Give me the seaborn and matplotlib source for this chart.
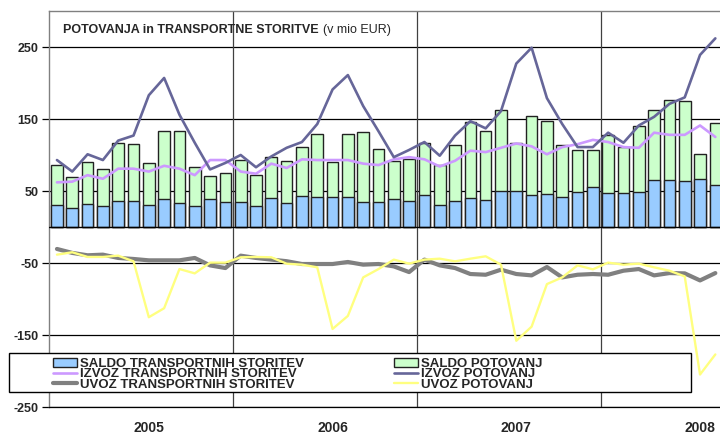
import numpy as np
import pandas as pd
import matplotlib
matplotlib.use("Agg")
import matplotlib.pyplot as plt
import seaborn as sns
from matplotlib.patches import Rectangle, Patch
from matplotlib.lines import Line2D
from matplotlib.font_manager import FontProperties

# ---------------- data (mio EUR, monthly Jan 2005 - Aug 2008) ----------------
years = ["2005", "2006", "2007", "2008"]
months = [f"{y}-{m:02d}" for y in years for m in range(1, 13)][:44]

saldo_transport = [31.0, 26.4, 31.9, 29.2, 36.1, 36.1, 31.0, 38.9, 33.3, 29.6, 38.9, 35.2,
                   35.2, 29.2, 40.3, 33.8, 42.6, 42.1, 41.7, 42.1, 35.2, 35.2, 38.9, 36.1,
                   44.0, 31.0, 36.1, 40.3, 37.0, 50.0, 50.0, 44.9, 45.8, 41.2, 48.1, 55.1,
                   47.2, 46.8, 48.6, 65.3, 64.8, 63.9, 66.7, 58.8]
saldo_potovanj = [55.6, 42.6, 58.8, 51.4, 80.6, 79.6, 57.4, 94.0, 100.0, 53.7, 31.5, 39.8,
                  57.4, 42.6, 56.9, 57.9, 68.0, 87.5, 48.6, 87.1, 96.7, 73.1, 52.3, 58.3,
                  72.7, 55.6, 77.8, 106.0, 96.3, 113.0, 66.7, 109.7, 101.4, 73.2, 58.4, 51.8,
                  81.0, 64.3, 92.1, 97.2, 111.1, 111.6, 34.7, 85.2]
izvoz_transport = [62, 63, 72, 67, 81, 81, 77, 85, 81, 72, 93, 93,
                   77, 74, 88, 82, 94, 93, 93, 93, 88, 86, 94, 97,
                   94, 84, 92, 106, 104, 110, 116, 112, 101, 111, 115, 121,
                   118, 111, 110, 131, 128, 128, 141, 125]
uvoz_transport = [-30.5, -36, -39.3, -38.4, -43, -44.4, -46.3, -46.3, -46.3, -43, -53.3, -57,
                  -39.8, -43, -45.3, -47.5, -51.4, -51.4, -51.4, -48.6, -52.3, -51.4, -54.7, -62.6,
                  -45.3, -53.3, -57, -65.3, -66.3, -59.3, -65.3, -67.2, -55.6, -70, -66.3, -65.3,
                  -66.3, -60.7, -58.4, -67.2, -64, -64.4, -74.2, -64]
izvoz_potovanj = [93, 77, 101, 93, 120, 127, 183, 207, 156, 117, 80, 89,
                  100, 83, 98, 110, 118, 143, 191, 211, 168, 133, 97, 107,
                  118, 99, 127, 147, 137, 161, 227, 249, 179, 143, 111, 111,
                  131, 117, 141, 153, 171, 180, 239, 262]
uvoz_potovanj = [-38.4, -35.1, -41.6, -41.6, -39.8, -47.7, -125.3, -112.8, -58.4, -64.4, -49.5, -49.5,
                 -42.1, -41.6, -42.1, -51, -52.3, -56, -141.6, -123.5, -70, -58.4, -45.3, -50.9,
                 -45.3, -44, -47.7, -44, -40.7, -52.3, -158, -138.4, -79.3, -70, -53.3, -58.8,
                 -49.5, -52.3, -50.9, -56, -60.7, -68.6, -204.9, -177]
y_ticks = [-250, -150, -50, 50, 150, 250]

labels = {
    "st": "SALDO TRANSPORTNIH STORITEV",
    "it": "IZVOZ TRANSPORTNIH STORITEV",
    "ut": "UVOZ TRANSPORTNIH STORITEV",
    "sp": "SALDO POTOVANJ",
    "ip": "IZVOZ POTOVANJ",
    "up": "UVOZ POTOVANJ",
}

df = pd.DataFrame({
    "month": months,
    "idx": np.arange(len(months)),
    "st": saldo_transport,
    "sp": saldo_potovanj,
    "it": izvoz_transport,
    "ut": uvoz_transport,
    "ip": izvoz_potovanj,
    "up": uvoz_potovanj,
})
df["stack_top"] = df["st"] + df["sp"]

# ---------------- style ----------------
sns.set_style("white")
plt.rcParams["font.family"] = ["Liberation Sans", "DejaVu Sans"]

C_BLUE = "#99CCFF"
C_GREEN = "#CCFFCC"
C_DARK = "#666699"
C_PURPLE = "#CC99FF"
C_GRAY = "#808080"
C_YELLOW = "#FFFF80"
EDGE = "#222222"

W, H = 720, 434
fig = plt.figure(figsize=(W / 100, H / 100), dpi=100)
fig.patch.set_facecolor("white")
ax = fig.add_axes([49.3 / W, 1 - 407 / H, (723 - 49.3) / W, (407 - 11) / H])
ax.set_facecolor("white")

# stacked bars: total (green) then saldo transport (blue) on top of it
sns.barplot(data=df, x="idx", y="stack_top", color=C_GREEN, saturation=1,
            edgecolor=EDGE, linewidth=1, width=0.76, ax=ax, zorder=2)
sns.barplot(data=df, x="idx", y="st", color=C_BLUE, saturation=1,
            edgecolor=EDGE, linewidth=1, width=0.76, ax=ax, zorder=2)

line_specs = [("it", C_PURPLE, 1.9), ("ip", C_DARK, 1.9),
              ("ut", C_GRAY, 3.0), ("up", C_YELLOW, 1.7)]
for key, col, lw in line_specs:
    sns.lineplot(data=df, x="idx", y=key, color=col, linewidth=lw,
                 estimator=None, ax=ax, zorder=4)

# gridlines / separators
for v in y_ticks:
    ax.axhline(v, color="black", lw=0.9, zorder=0.5)
for xv in [11.5, 23.5, 35.5]:
    ax.axvline(xv, color="#404040", lw=0.9, zorder=0.6)
ax.axhline(0, color="black", lw=1.0, zorder=3)

ax.set_xlim(-0.5, 43.5)
ax.set_ylim(-250, 300)
ax.set_xlabel("")
ax.set_ylabel("")

ax.set_yticks(y_ticks)
ax.set_yticklabels([str(v) for v in y_ticks], fontweight="bold", fontsize=9)
ax.tick_params(axis="y", direction="out", length=5, width=0.9, color="black", pad=3, left=True)
ax.set_xticks([6, 18, 30, 42])
ax.set_xticklabels(years, fontweight="bold", fontsize=10)
ax.tick_params(axis="x", length=0, pad=10, bottom=True)

for s in ["top", "left"]:
    ax.spines[s].set_color("#808080")
    ax.spines[s].set_linewidth(1.0)
ax.spines["right"].set_visible(False)
ax.spines["bottom"].set_color("black")
ax.spines["bottom"].set_linewidth(0.9)

# title inside plot
t1 = fig.text(63 / W, 1 - 32.7 / H, "POTOVANJA in TRANSPORTNE STORITVE",
              fontweight="bold", fontsize=9, va="baseline", ha="left")
ax.annotate("(v mio EUR)", xy=(1, 0), xycoords=t1, xytext=(3, 0),
            textcoords="offset points", va="bottom", ha="left", fontsize=9,
            annotation_clip=False)

# legend with white box
box = Rectangle((9 / W, 1 - 392 / H), (691 - 9) / W, (392 - 353) / H,
                transform=fig.transFigure, facecolor="white", edgecolor="black",
                lw=1.0, zorder=1)
fig.patches.append(box)

handles = [
    Patch(facecolor=C_BLUE, edgecolor=EDGE, lw=1, label=labels["st"]),
    Line2D([], [], color=C_PURPLE, lw=1.9, label=labels["it"]),
    Line2D([], [], color=C_GRAY, lw=3.0, label=labels["ut"]),
    Patch(facecolor=C_GREEN, edgecolor=EDGE, lw=1, label=labels["sp"]),
    Line2D([], [], color=C_DARK, lw=1.9, label=labels["ip"]),
    Line2D([], [], color=C_YELLOW, lw=1.7, label=labels["up"]),
]
fig.legend(handles=handles, ncol=2, loc="upper left",
           bbox_to_anchor=(53 / W, 1 - 357.5 / H), frameon=False,
           borderpad=0, borderaxespad=0, handlelength=1.8, handletextpad=0.25,
           columnspacing=6.8, labelspacing=-0.12,
           prop=FontProperties(family="Liberation Sans", weight="bold", size=9.5))

fig.savefig("out.png", dpi=100)
